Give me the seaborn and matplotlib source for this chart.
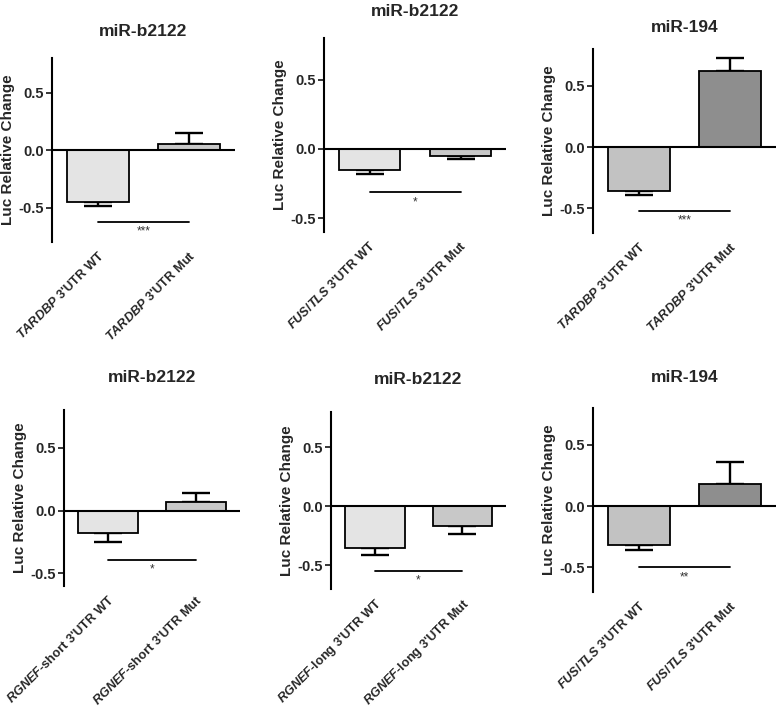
import numpy as np
import seaborn as sns
import matplotlib
matplotlib.use('Agg')
import matplotlib.pyplot as plt

# panel data
titles = ['miR-b2122', 'miR-b2122', 'miR-194', 'miR-b2122', 'miR-b2122', 'miR-194']
genes = ['TARDBP', 'FUS/TLS', 'TARDBP', 'RGNEF', 'RGNEF', 'FUS/TLS']
suffix = [" 3'UTR", " 3'UTR", " 3'UTR", "-short 3'UTR", "-long 3'UTR", " 3'UTR"]
conditions = ['WT', 'Mut']
values = [[-0.45, 0.05], [-0.15, -0.05], [-0.36, 0.62],
          [-0.18, 0.07], [-0.35, -0.17], [-0.32, 0.18]]
errors = [[0.035, 0.10], [0.03, 0.025], [0.03, 0.11],
          [0.07, 0.07], [0.065, 0.06], [0.035, 0.18]]
sig_y = [-0.63, -0.31, -0.52, -0.39, -0.55, -0.50]
sig_text = ['***', '*', '***', '*', '*', '**']
ylims = [(-0.8, 0.8), (-0.6, 0.8), (-0.7, 0.8), (-0.6, 0.8), (-0.7, 0.8), (-0.7, 0.8)]

light = ['#e4e4e4', '#c8c8c8']
dark = ['#c2c2c2', '#8e8e8e']
palettes = [light, light, dark, light, light, dark]

# axes boxes in pixels (left, right, top, bottom)
boxes = [(52, 235, 58, 242), (324, 506, 38, 232), (593, 776, 49, 233),
         (64, 240, 410, 586), (331, 506, 412, 589), (593, 776, 408, 592)]
title_gap = [26, 26, 22, 33, 33, 31]

sns.set_style('white')
plt.rcParams['font.family'] = ['Liberation Sans', 'DejaVu Sans']
plt.rcParams['mathtext.fontset'] = 'custom'
plt.rcParams['mathtext.it'] = 'Liberation Sans:italic:bold'
plt.rcParams['mathtext.rm'] = 'Liberation Sans:bold'

W, H = 778, 712
fig = plt.figure(figsize=(W / 100, H / 100), dpi=100)

for i in range(6):
    l, r, t, b = boxes[i]
    ax = fig.add_axes([l / W, 1 - b / H, (r - l) / W, (b - t) / H])
    labels = ['$\\it{' + genes[i] + '}$' + suffix[i] + ' ' + c for c in conditions]
    vals = values[i]
    sns.barplot(x=labels, y=vals, hue=labels, palette=palettes[i], legend=False,
                width=0.68, edgecolor='black', linewidth=1.3, errorbar=None, ax=ax)
    # one-sided error bars pointing away from zero
    err = np.array(errors[i])
    lower = np.where(np.array(vals) < 0, err, 0)
    upper = np.where(np.array(vals) >= 0, err, 0)
    ax.errorbar([0, 1], vals, yerr=[lower, upper], fmt='none', ecolor='black',
                elinewidth=1.7, capsize=10, capthick=1.7, zorder=0.5)
    ax.axhline(0, color='black', lw=1.5, zorder=3)
    ax.plot([0, 1], [sig_y[i], sig_y[i]], color='black', lw=1.3)
    ax.text(0.5, sig_y[i] - 0.03, sig_text[i], ha='center', va='top',
            fontsize=8.5, color='#333333')

    ax.set_xlim(-0.5, 1.5)
    ax.set_ylim(*ylims[i])
    ax.set_yticks([-0.5, 0, 0.5])
    ax.set_yticklabels(['-0.5', '0.0', '0.5'], fontsize=10.5, fontweight='bold')
    ax.set_xticks([0, 1])
    ax.set_xticklabels(labels, rotation=45, ha='right', rotation_mode='anchor',
                       fontsize=9.2, fontweight='bold')
    ax.tick_params(axis='x', length=0, pad=5)
    ax.tick_params(axis='y', length=4, width=1.3, direction='out', left=True, pad=2)
    for s in ['top', 'right', 'bottom']:
        ax.spines[s].set_visible(False)
    ax.spines['left'].set_linewidth(1.5)
    ax.spines['left'].set_color('black')
    ax.set_ylabel('Luc Relative Change', fontsize=11, fontweight='bold', labelpad=2)
    ax.set_xlabel('')
    ax.text(0.5, 1 + title_gap[i] / (b - t), titles[i], transform=ax.transAxes,
            ha='center', va='center', fontsize=12.5, fontweight='bold')

fig.savefig('out.png', dpi=100, facecolor='white')
